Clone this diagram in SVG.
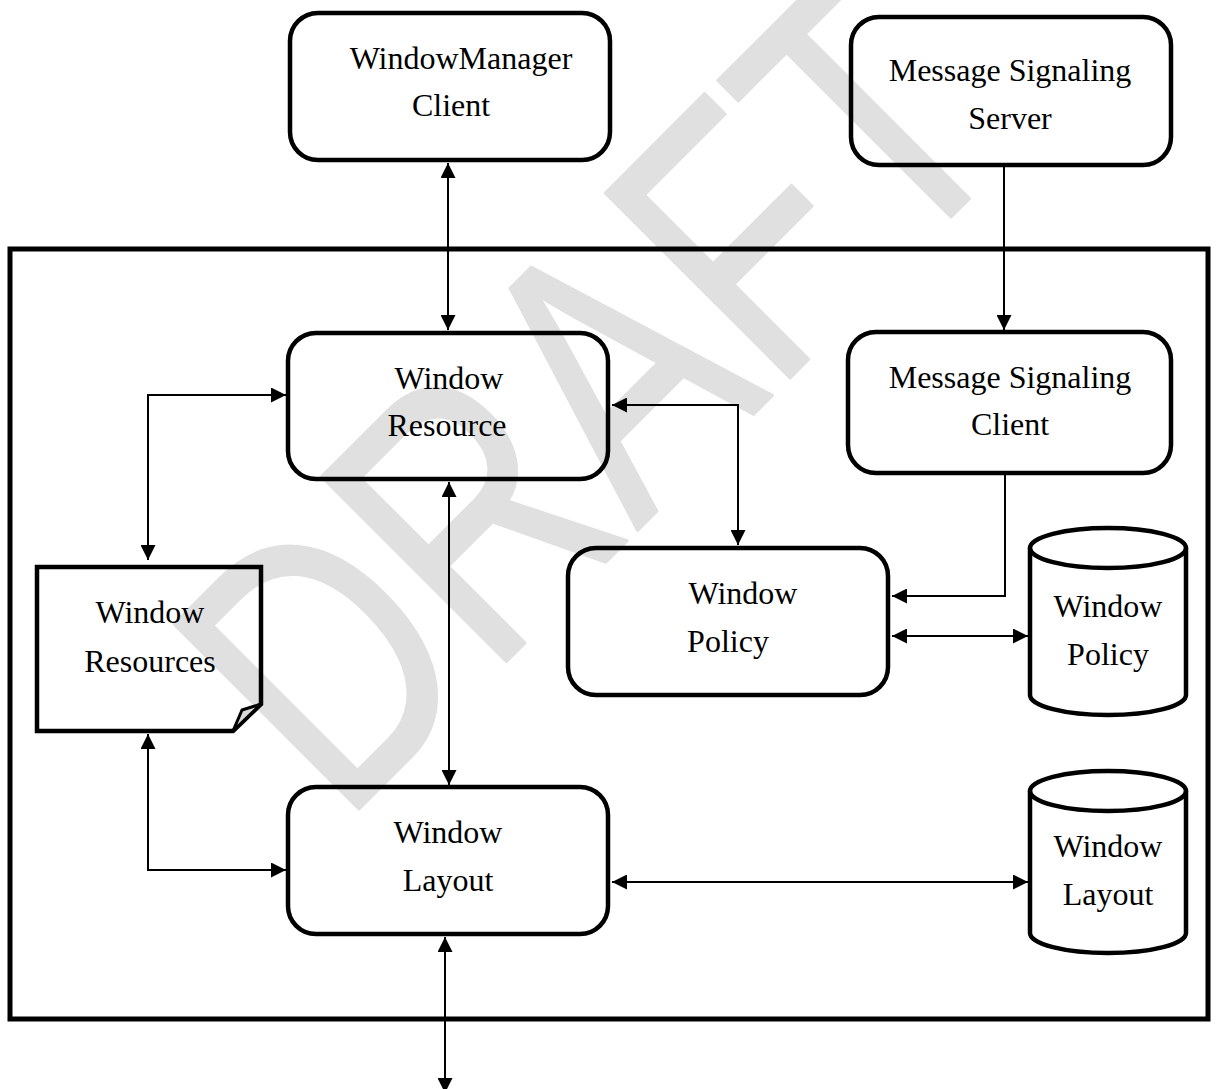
<svg xmlns="http://www.w3.org/2000/svg" width="1218" height="1089" viewBox="0 0 1218 1089">
<style>
.box{fill:none;stroke:#000;stroke-width:4.5}
.cont{fill:none;stroke:#000;stroke-width:5}
.lbl{font-family:"Liberation Serif","Times New Roman",serif;font-size:32px;fill:#000;text-anchor:middle}
.con{fill:none;stroke:#000;stroke-width:2}
.wm{font-family:"Liberation Sans",Arial,sans-serif;font-size:380px;fill:#e0e0e0;stroke:#e0e0e0;stroke-width:3;stroke-linejoin:round}
</style>
<defs>
<marker id="ah" viewBox="0 0 10 10" refX="10" refY="5" markerUnits="userSpaceOnUse" markerWidth="15" markerHeight="15" orient="auto-start-reverse">
<path d="M0,0 L10,5 L0,10 z" fill="#000"/>
</marker>
</defs>
<rect width="1218" height="1089" fill="#fff"/>
<text class="wm" transform="translate(342,826) rotate(-45) scale(0.76,1)">DRAFT</text>

<rect id="container" class="cont" x="10" y="249" width="1198" height="770"/>

<g id="wm-client">
<rect class="box" x="290" y="13" width="320" height="147" rx="28"/>
<text class="lbl" x="461" y="69">WindowManager</text>
<text class="lbl" x="451" y="116">Client</text>
</g>
<g id="ms-server">
<rect class="box" x="851" y="17" width="320" height="148" rx="28"/>
<text class="lbl" x="1010" y="81">Message Signaling</text>
<text class="lbl" x="1010" y="129">Server</text>
</g>
<g id="window-resource">
<rect class="box" x="288" y="333" width="320" height="146" rx="28"/>
<text class="lbl" x="449" y="389">Window</text>
<text class="lbl" x="447" y="436">Resource</text>
</g>
<g id="ms-client">
<rect class="box" x="848" y="332" width="323" height="141" rx="28"/>
<text class="lbl" x="1010" y="388">Message Signaling</text>
<text class="lbl" x="1010" y="435">Client</text>
</g>
<g id="window-policy">
<rect class="box" x="568" y="548" width="320" height="147" rx="28"/>
<text class="lbl" x="743" y="604">Window</text>
<text class="lbl" x="728" y="652">Policy</text>
</g>
<g id="window-resources">
<path class="box" d="M37,567 H261 V704 L233,731 H37 Z"/>
<path d="M233,731 L242,710 L261,704 Z" fill="#d9d9d9" stroke="#000" stroke-width="3" stroke-linejoin="round"/>
<text class="lbl" x="150" y="623">Window</text>
<text class="lbl" x="150" y="672">Resources</text>
</g>
<g id="window-layout">
<rect class="box" x="288" y="787" width="320" height="147" rx="28"/>
<text class="lbl" x="448" y="843">Window</text>
<text class="lbl" x="448" y="891">Layout</text>
</g>
<g id="policy-db">
<path class="box" d="M1030,548 V695 A78,20 0 0 0 1186,695 V548"/>
<ellipse class="box" cx="1108" cy="548" rx="78" ry="20"/>
<text class="lbl" x="1108" y="617">Window</text>
<text class="lbl" x="1108" y="665">Policy</text>
</g>
<g id="layout-db">
<path class="box" d="M1030,791 V933 A78,20 0 0 0 1186,933 V791"/>
<ellipse class="box" cx="1108" cy="791" rx="78" ry="20"/>
<text class="lbl" x="1108" y="857">Window</text>
<text class="lbl" x="1108" y="905">Layout</text>
</g>

<g id="connectors">
<path class="con" d="M448,163 V330" marker-start="url(#ah)" marker-end="url(#ah)"/>
<path class="con" d="M1004,165 V330" marker-end="url(#ah)"/>
<path class="con" d="M148,560 V395 H286" marker-start="url(#ah)" marker-end="url(#ah)"/>
<path class="con" d="M449,482 V785" marker-start="url(#ah)" marker-end="url(#ah)"/>
<path class="con" d="M612,405 H738 V545" marker-start="url(#ah)" marker-end="url(#ah)"/>
<path class="con" d="M1005,473 V596 H892" marker-end="url(#ah)"/>
<path class="con" d="M892,636 H1028" marker-start="url(#ah)" marker-end="url(#ah)"/>
<path class="con" d="M148,734 V870 H286" marker-start="url(#ah)" marker-end="url(#ah)"/>
<path class="con" d="M612,882 H1028" marker-start="url(#ah)" marker-end="url(#ah)"/>
<path class="con" d="M445,937 V1093" marker-start="url(#ah)" marker-end="url(#ah)"/>
</g>
</svg>
